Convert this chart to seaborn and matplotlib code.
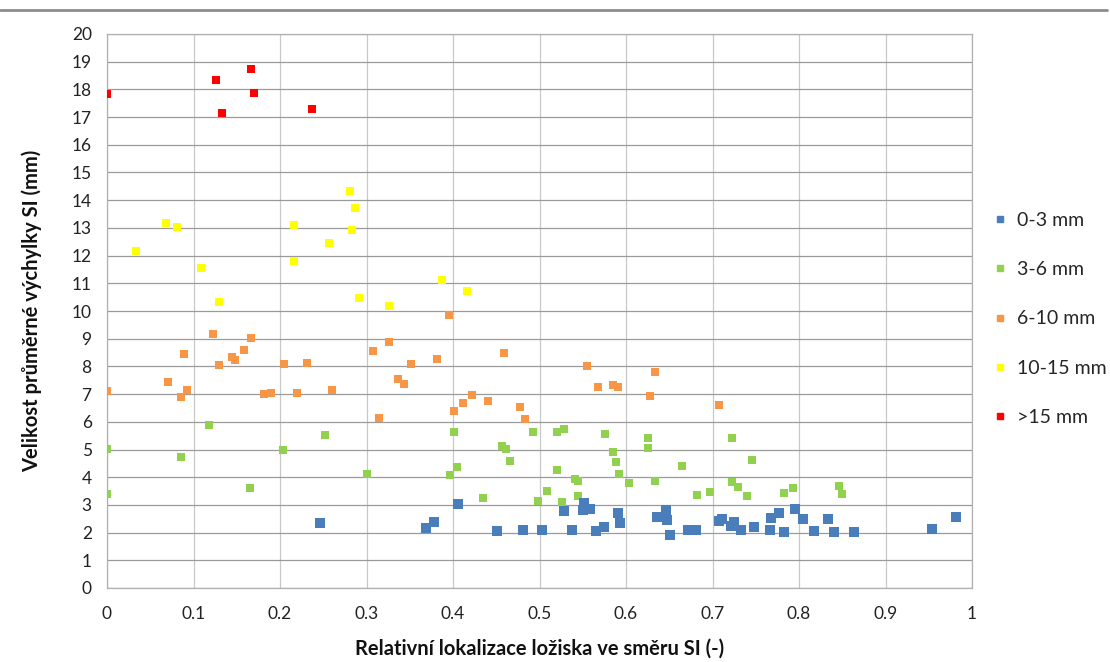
import matplotlib
matplotlib.use("Agg")
import matplotlib.pyplot as plt
from matplotlib.lines import Line2D
import numpy as np
import pandas as pd
import seaborn as sns

# --- data -------------------------------------------------------------
blue_x = [0.246, 0.369, 0.378, 0.406, 0.451, 0.481, 0.503, 0.528, 0.538, 0.550,
          0.558, 0.552, 0.565, 0.574, 0.591, 0.593, 0.636, 0.646, 0.647, 0.651,
          0.672, 0.681, 0.708, 0.711, 0.721, 0.725, 0.733, 0.748, 0.767, 0.768,
          0.777, 0.783, 0.795, 0.805, 0.817, 0.834, 0.841, 0.864, 0.954, 0.981]
blue_y = [2.36, 2.15, 2.37, 3.02, 2.05, 2.08, 2.11, 2.79, 2.11, 2.82,
          2.86, 3.06, 2.07, 2.21, 2.70, 2.36, 2.57, 2.82, 2.47, 1.90,
          2.11, 2.11, 2.43, 2.50, 2.24, 2.37, 2.11, 2.20, 2.08, 2.54,
          2.72, 2.03, 2.84, 2.50, 2.07, 2.48, 2.03, 2.03, 2.12, 2.57]

green_x = [0.0, 0.0, 0.085, 0.118, 0.165, 0.203, 0.252, 0.301, 0.397, 0.401,
           0.405, 0.435, 0.457, 0.461, 0.466, 0.493, 0.498, 0.509, 0.520, 0.528,
           0.520, 0.526, 0.541, 0.544, 0.545, 0.576, 0.585, 0.588, 0.592, 0.603,
           0.626, 0.626, 0.634, 0.665, 0.682, 0.697, 0.722, 0.723, 0.730, 0.740,
           0.746, 0.783, 0.793, 0.846, 0.850]
green_y = [5.02, 3.39, 4.74, 5.88, 3.62, 4.98, 5.52, 4.13, 4.08, 5.63,
           4.36, 3.26, 5.13, 5.02, 4.58, 5.63, 3.15, 3.50, 5.63, 5.74,
           4.26, 3.12, 3.95, 3.87, 3.33, 5.55, 4.91, 4.55, 4.13, 3.80,
           5.42, 5.05, 3.87, 4.42, 3.37, 3.48, 5.42, 3.84, 3.66, 3.31,
           4.62, 3.44, 3.62, 3.69, 3.40]

orange_x = [0.0, 0.070, 0.086, 0.092, 0.089, 0.123, 0.129, 0.144, 0.148, 0.158,
            0.166, 0.182, 0.190, 0.205, 0.220, 0.231, 0.260, 0.307, 0.326, 0.314,
            0.336, 0.343, 0.351, 0.382, 0.395, 0.401, 0.411, 0.422, 0.440, 0.459,
            0.478, 0.483, 0.555, 0.568, 0.585, 0.591, 0.633, 0.628, 0.708]
orange_y = [7.10, 7.43, 6.88, 7.14, 8.46, 9.18, 8.04, 8.35, 8.24, 8.58,
            9.04, 6.99, 7.03, 8.08, 7.03, 8.11, 7.15, 8.57, 8.89, 6.14,
            7.53, 7.35, 8.10, 8.28, 9.86, 6.38, 6.67, 6.96, 6.74, 8.50,
            6.52, 6.09, 8.00, 7.25, 7.32, 7.27, 7.81, 6.92, 6.60]

yellow_x = [0.033, 0.068, 0.081, 0.109, 0.130, 0.216, 0.216, 0.257, 0.281, 0.287,
            0.283, 0.291, 0.326, 0.387, 0.416]
yellow_y = [12.15, 13.17, 13.02, 11.55, 10.34, 13.12, 11.80, 12.44, 14.34, 13.73,
            12.91, 10.48, 10.19, 11.12, 10.72]

red_x = [0.0, 0.126, 0.133, 0.167, 0.170, 0.237]
red_y = [17.82, 18.33, 17.15, 18.73, 17.87, 17.29]

categories = ["0-3 mm", "3-6 mm", "6-10 mm", "10-15 mm", ">15 mm"]
colors = ["#4A7EBB", "#92D050", "#F79646", "#FFFF00", "#FF0000"]
x_tick_labels = ["0", "0.1", "0.2", "0.3", "0.4", "0.5", "0.6", "0.7", "0.8", "0.9", "1"]

series_x = [blue_x, green_x, orange_x, yellow_x, red_x]
series_y = [blue_y, green_y, orange_y, yellow_y, red_y]

df = pd.concat(
    [pd.DataFrame({"x": sx, "y": sy, "skupina": cat})
     for sx, sy, cat in zip(series_x, series_y, categories)],
    ignore_index=True,
)

# --- figure -----------------------------------------------------------
sns.set_theme(style="white")
plt.rcParams["font.family"] = ["Lato", "DejaVu Sans"]

W, H = 1110, 662
fig = plt.figure(figsize=(W / 100, H / 100), dpi=100)
ax = fig.add_axes([107 / W, (H - 588) / H, 865 / W, 554 / H])

ax.set_xlim(0, 1)
ax.set_ylim(0, 20)
ax.set_xticks(np.linspace(0, 1, 11))
ax.set_xticklabels(x_tick_labels)
ax.set_yticks(np.arange(0, 21, 1))

# grid: darker horizontals, lighter verticals
ax.set_axisbelow(True)
ax.yaxis.grid(True, color="#9a9a9a", linewidth=0.9)
ax.xaxis.grid(True, color="#c8c8c8", linewidth=0.9)
for side in ["left", "bottom", "top", "right"]:
    ax.spines[side].set_color("#b0b0b0")
    ax.spines[side].set_linewidth(0.9)

palette = dict(zip(categories, colors))
sizes = {c: 30 for c in categories}
sizes["0-3 mm"] = 52
# draw series back to front so the small-displacement group sits on top
for cat in categories[::-1]:
    sub = df[df["skupina"] == cat]
    sns.scatterplot(data=sub, x="x", y="y", ax=ax, color=palette[cat],
                    marker="s", s=sizes[cat], linewidth=0,
                    legend=False, zorder=3)

ax.tick_params(axis="both", length=0, labelsize=12.5, colors="#222222")
ax.tick_params(axis="x", pad=13)
ax.tick_params(axis="y", pad=11)

ax.set_xlabel("Relativní lokalizace ložiska ve směru SI (-)",
              fontsize=14.5, fontweight="bold", color="#111111")
ax.set_ylabel("Velikost průměrné výchylky SI (mm)",
              fontsize=14.5, fontweight="bold", color="#111111")
ax.xaxis.set_label_coords(0.5, (588 - 639) / 554)
ax.yaxis.set_label_coords((42 - 107) / 865, 0.5)

handles = [Line2D([0], [0], marker="s", linestyle="none", color=c,
                  markersize=5) for c in colors]
fig.legend(handles, categories, loc="upper left",
           bbox_to_anchor=(984 / W, 1 - 204 / H), frameon=False,
           fontsize=14, handlelength=0.8, handletextpad=0.5,
           labelspacing=1.66, borderaxespad=0)

# thin rule across the top of the chart area
fig.add_artist(Line2D([0, 0.997], [1 - 10 / H, 1 - 10 / H],
                      transform=fig.transFigure, color="#8c8c8c", linewidth=2))

fig.savefig("out.png", dpi=100)
